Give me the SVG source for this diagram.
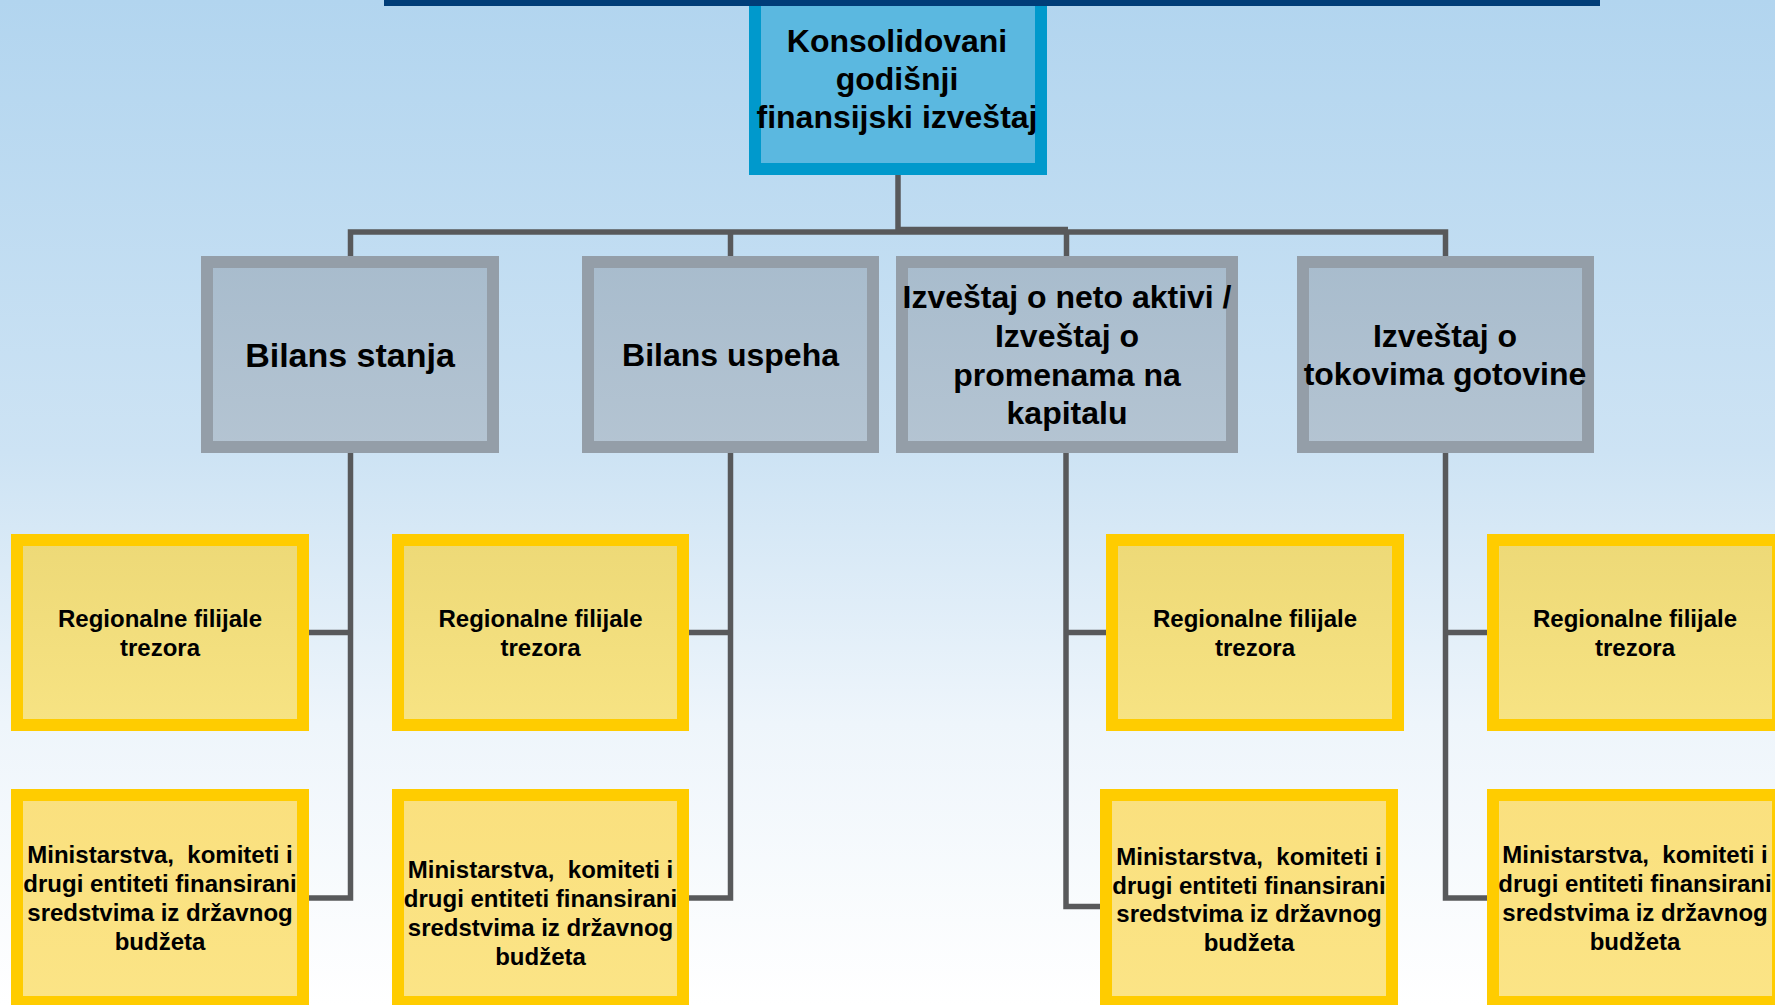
<svg xmlns="http://www.w3.org/2000/svg" width="1775" height="1005" viewBox="0 0 1775 1005">
  <defs>
    <linearGradient id="bg" x1="0" y1="0" x2="0" y2="1">
      <stop offset="0" stop-color="#B2D5EF"/>
      <stop offset="0.45" stop-color="#CDE3F4"/>
      <stop offset="0.72" stop-color="#EEF5FB"/>
      <stop offset="1" stop-color="#FFFFFF"/>
    </linearGradient>
    <linearGradient id="gGray" x1="0" y1="0" x2="0" y2="1">
      <stop offset="0" stop-color="#A8BCCD"/>
      <stop offset="1" stop-color="#B4C4D2"/>
    </linearGradient>
    <linearGradient id="gReg" x1="0" y1="0" x2="0" y2="1">
      <stop offset="0" stop-color="#EDD977"/>
      <stop offset="1" stop-color="#F7E383"/>
    </linearGradient>
    <linearGradient id="gMin" x1="0" y1="0" x2="0" y2="1">
      <stop offset="0" stop-color="#FAE07E"/>
      <stop offset="1" stop-color="#FBE486"/>
    </linearGradient>
  </defs>
  <style>
    .top { fill: #5BB8E0; stroke: #0099CC; stroke-width: 12; }
    .gray { fill: url(#gGray); stroke: #949EA8; stroke-width: 12; }
    .reg { fill: url(#gReg); stroke: #FFCC00; stroke-width: 12; }
    .min { fill: url(#gMin); stroke: #FFCC00; stroke-width: 12; }
    text { font-family: "Liberation Sans", Arial, sans-serif; font-weight: bold; fill: #000; text-anchor: middle; }
    .t32 { font-size: 32px; }
    .t34 { font-size: 34px; }
    .t24 { font-size: 24px; white-space: pre; }
    .conn { fill: none; stroke: #58595B; stroke-width: 5.5; stroke-linejoin: miter; }
  </style>

  <rect x="0" y="0" width="1775" height="1005" fill="url(#bg)"/>

  <g id="connectors">
    <path class="conn" d="M898 175 V232"/>
    <path class="conn" d="M350.5 256 V232 H1445.5 V256"/>
    <path class="conn" d="M898 229.5 H1068"/>
    <path class="conn" d="M730.5 232 V256"/>
    <path class="conn" d="M1066.5 232 V256"/>
    <path class="conn" d="M350.5 453 V898 H309"/>
    <path class="conn" d="M309 632.5 H350.5"/>
    <path class="conn" d="M730.5 453 V898 H689"/>
    <path class="conn" d="M689 632.5 H730.5"/>
    <path class="conn" d="M1066 453 V906.5 H1100"/>
    <path class="conn" d="M1066 632.5 H1106"/>
    <path class="conn" d="M1445.5 453 V898 H1487"/>
    <path class="conn" d="M1445.5 632.5 H1487"/>
  </g>

  <g id="node-root">
    <rect class="top" x="755" y="-2" width="286" height="171"/>
    <text class="t32" x="897" y="52">Konsolidovani</text>
    <text class="t32" x="897" y="90">godišnji</text>
    <text class="t32" x="897" y="128">finansijski izveštaj</text>
  </g>
  <rect id="top-bar" x="384" y="0" width="1216" height="6" fill="#003D78"/>

  <g id="node-bilans-stanja">
    <rect class="gray" x="207" y="262" width="286" height="185"/>
    <text class="t34" x="350" y="367">Bilans stanja</text>
  </g>
  <g id="node-bilans-uspeha">
    <rect class="gray" x="588" y="262" width="285" height="185"/>
    <text class="t32" x="730.5" y="366">Bilans uspeha</text>
  </g>
  <g id="node-neto-aktiva">
    <rect class="gray" x="902" y="262" width="330" height="185"/>
    <text class="t32" x="1067" y="308">Izveštaj o neto aktivi /</text>
    <text class="t32" x="1067" y="347">Izveštaj o</text>
    <text class="t32" x="1067" y="386">promenama na</text>
    <text class="t32" x="1067" y="424">kapitalu</text>
  </g>
  <g id="node-tokovi">
    <rect class="gray" x="1303" y="262" width="285" height="185"/>
    <text class="t32" x="1445" y="347">Izveštaj o</text>
    <text class="t32" x="1445" y="385">tokovima gotovine</text>
  </g>

  <g id="node-reg-a">
    <rect class="reg" x="17" y="540" width="286" height="185"/>
    <text class="t24" x="160" y="627">Regionalne filijale</text>
    <text class="t24" x="160" y="656">trezora</text>
  </g>
  <g id="node-reg-b">
    <rect class="reg" x="398" y="540" width="285" height="185"/>
    <text class="t24" x="540.5" y="627">Regionalne filijale</text>
    <text class="t24" x="540.5" y="656">trezora</text>
  </g>
  <g id="node-reg-c">
    <rect class="reg" x="1112" y="540" width="286" height="185"/>
    <text class="t24" x="1255" y="627">Regionalne filijale</text>
    <text class="t24" x="1255" y="656">trezora</text>
  </g>
  <g id="node-reg-d">
    <rect class="reg" x="1493" y="540" width="285" height="185"/>
    <text class="t24" x="1635" y="627">Regionalne filijale</text>
    <text class="t24" x="1635" y="656">trezora</text>
  </g>

  <g id="node-min-a">
    <rect class="min" x="17" y="795" width="286" height="207"/>
    <text class="t24" x="160" y="863">Ministarstva,  komiteti i</text>
    <text class="t24" x="160" y="892">drugi entiteti finansirani</text>
    <text class="t24" x="160" y="921">sredstvima iz državnog</text>
    <text class="t24" x="160" y="950">budžeta</text>
  </g>
  <g id="node-min-b">
    <rect class="min" x="398" y="795" width="285" height="207"/>
    <text class="t24" x="540.5" y="878">Ministarstva,  komiteti i</text>
    <text class="t24" x="540.5" y="907">drugi entiteti finansirani</text>
    <text class="t24" x="540.5" y="936">sredstvima iz državnog</text>
    <text class="t24" x="540.5" y="965">budžeta</text>
  </g>
  <g id="node-min-c">
    <rect class="min" x="1106" y="795" width="286" height="207"/>
    <text class="t24" x="1249" y="865">Ministarstva,  komiteti i</text>
    <text class="t24" x="1249" y="894">drugi entiteti finansirani</text>
    <text class="t24" x="1249" y="922">sredstvima iz državnog</text>
    <text class="t24" x="1249" y="951">budžeta</text>
  </g>
  <g id="node-min-d">
    <rect class="min" x="1493" y="795" width="285" height="207"/>
    <text class="t24" x="1635" y="863">Ministarstva,  komiteti i</text>
    <text class="t24" x="1635" y="892">drugi entiteti finansirani</text>
    <text class="t24" x="1635" y="921">sredstvima iz državnog</text>
    <text class="t24" x="1635" y="950">budžeta</text>
  </g>
</svg>
